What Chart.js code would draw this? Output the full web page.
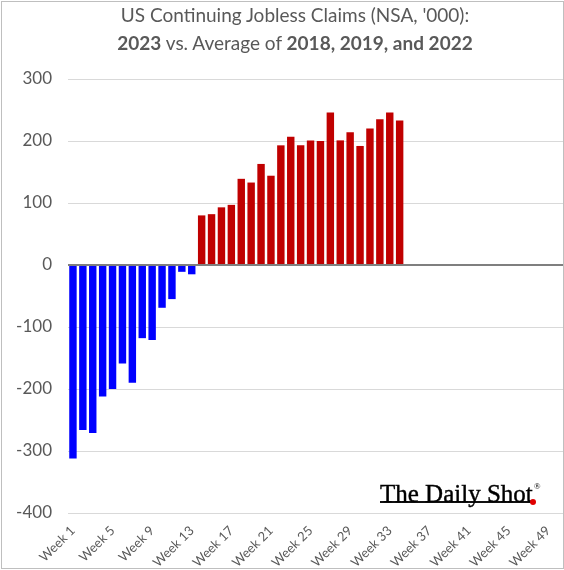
<!DOCTYPE html>
<html>
<head>
<meta charset="utf-8">
<script src="https://cdn.jsdelivr.net/npm/chart.js@4.4.1/dist/chart.umd.min.js"></script>
<style>
  html, body { margin: 0; padding: 0; background: #fff; }
  #wrap { position: relative; width: 564px; height: 570px; overflow: hidden; }
  #chart { position: absolute; left: 0; top: 0; }
  #title {
    position: absolute; left: 26px; top: 1px; width: 538px;
    text-align: center; font-family: Lato, sans-serif; font-size: 19px;
    line-height: 28px; color: #595959;
  }
  #title b { font-weight: 700; }
  #logo {
    position: absolute; left: 380px; top: 476px;
    font-family: "Liberation Serif", serif; font-size: 25px; color: #000;
    line-height: 28px; white-space: nowrap; -webkit-text-stroke: 0.4px #000;
  }
  #logo sup { font-size: 9px; position: relative; top: -4px; margin-left: 1px; -webkit-text-stroke: 0; }
  #logoLine { position: absolute; left: 380px; top: 501px; width: 153px; height: 2px; background: #111; }
  #logoDot { position: absolute; left: 530px; top: 499px; width: 6px; height: 6px; border-radius: 3px; background: #e00000; }
  #frame { position: absolute; left: 1px; top: 1px; width: 561px; height: 566px; border: 1px solid #bfbfbf; pointer-events: none; }
</style>
</head>
<body>
<div id="wrap">
  <canvas id="chart" width="564" height="570"></canvas>
  <div id="title">US Continuing Jobless Claims (NSA, '000):<br><b>2023</b> vs. Average of <b>2018, 2019, and 2022</b></div>
  <div id="logoLine"></div>
  <div id="logo">The Daily Shot<sup>®</sup></div>
  <div id="logoDot"></div>
  <div id="frame"></div>
</div>
<script>
// categories
const weeks = [
  "Week 1", "Week 2", "Week 3", "Week 4", "Week 5", "Week 6", "Week 7", "Week 8", "Week 9", "Week 10",
  "Week 11", "Week 12", "Week 13", "Week 14", "Week 15", "Week 16", "Week 17", "Week 18", "Week 19", "Week 20",
  "Week 21", "Week 22", "Week 23", "Week 24", "Week 25", "Week 26", "Week 27", "Week 28", "Week 29", "Week 30",
  "Week 31", "Week 32", "Week 33", "Week 34", "Week 35", "Week 36", "Week 37", "Week 38", "Week 39", "Week 40",
  "Week 41", "Week 42", "Week 43", "Week 44", "Week 45", "Week 46", "Week 47", "Week 48", "Week 49", "Week 50"
];

// 2023 minus average of 2018, 2019, 2022 ('000)
const diff2023 = [
  -312, -266, -271, -212, -200, -159, -190, -118, -121, -69,
  -55, -11, -15, 80, 82, 93, 97, 139, 133, 163,
  144, 193, 207, 193, 201, 200, 246, 201, 214, 192,
  220, 235, 246, 233, null, null, null, null, null, null,
  null, null, null, null, null, null, null, null, null, null
];

const yTicks = { min: -400, max: 300, step: 100 };

const POS_COLOR = "#C00000";
const NEG_COLOR = "#0000FF";
const TEXT_GRAY = "#595959";

// zero line on top of the bars
const zeroLine = {
  id: "zeroLine",
  afterDatasetsDraw(chart) {
    const { ctx, chartArea, scales } = chart;
    const y = Math.round(scales.y.getPixelForValue(0));
    ctx.save();
    ctx.strokeStyle = "#7f7f7f";
    ctx.lineWidth = 2;
    ctx.beginPath();
    ctx.moveTo(chartArea.left, y);
    ctx.lineTo(chartArea.right, y);
    ctx.stroke();
    ctx.restore();
  }
};

new Chart(document.getElementById("chart"), {
  type: "bar",
  data: {
    labels: weeks,
    datasets: [{
      data: diff2023,
      backgroundColor: diff2023.map(v => (v < 0 ? NEG_COLOR : POS_COLOR)),
      barPercentage: 0.75,
      categoryPercentage: 1.0
    }]
  },
  options: {
    responsive: false,
    animation: false,
    devicePixelRatio: 1,
    layout: { padding: { top: 79, right: 1, left: 0, bottom: 0 } },
    plugins: {
      legend: { display: false },
      tooltip: { enabled: false }
    },
    scales: {
      x: {
        grid: { display: false, drawTicks: false },
        border: { display: false },
        ticks: {
          autoSkip: false,
          minRotation: 45,
          maxRotation: 45,
          padding: 10,
          color: TEXT_GRAY,
          font: { family: "Lato", size: 13 },
          callback: (v, i) => (i % 4 === 0 ? weeks[i] : "")
        },
        afterFit: s => { s.height = 57; s.paddingLeft = 0; s.paddingRight = 0; }
      },
      y: {
        min: yTicks.min,
        max: yTicks.max,
        grid: {
          color: c => (c.tick.value === 0 ? "rgba(0,0,0,0)" : "#d9d9d9"),
          lineWidth: 1,
          drawTicks: false
        },
        border: { display: false },
        ticks: {
          stepSize: yTicks.step,
          padding: 16,
          color: TEXT_GRAY,
          font: { family: "Lato", size: 17 }
        },
        afterFit: s => { s.width = 68; }
      }
    }
  },
  plugins: [zeroLine]
});
</script>
</body>
</html>
